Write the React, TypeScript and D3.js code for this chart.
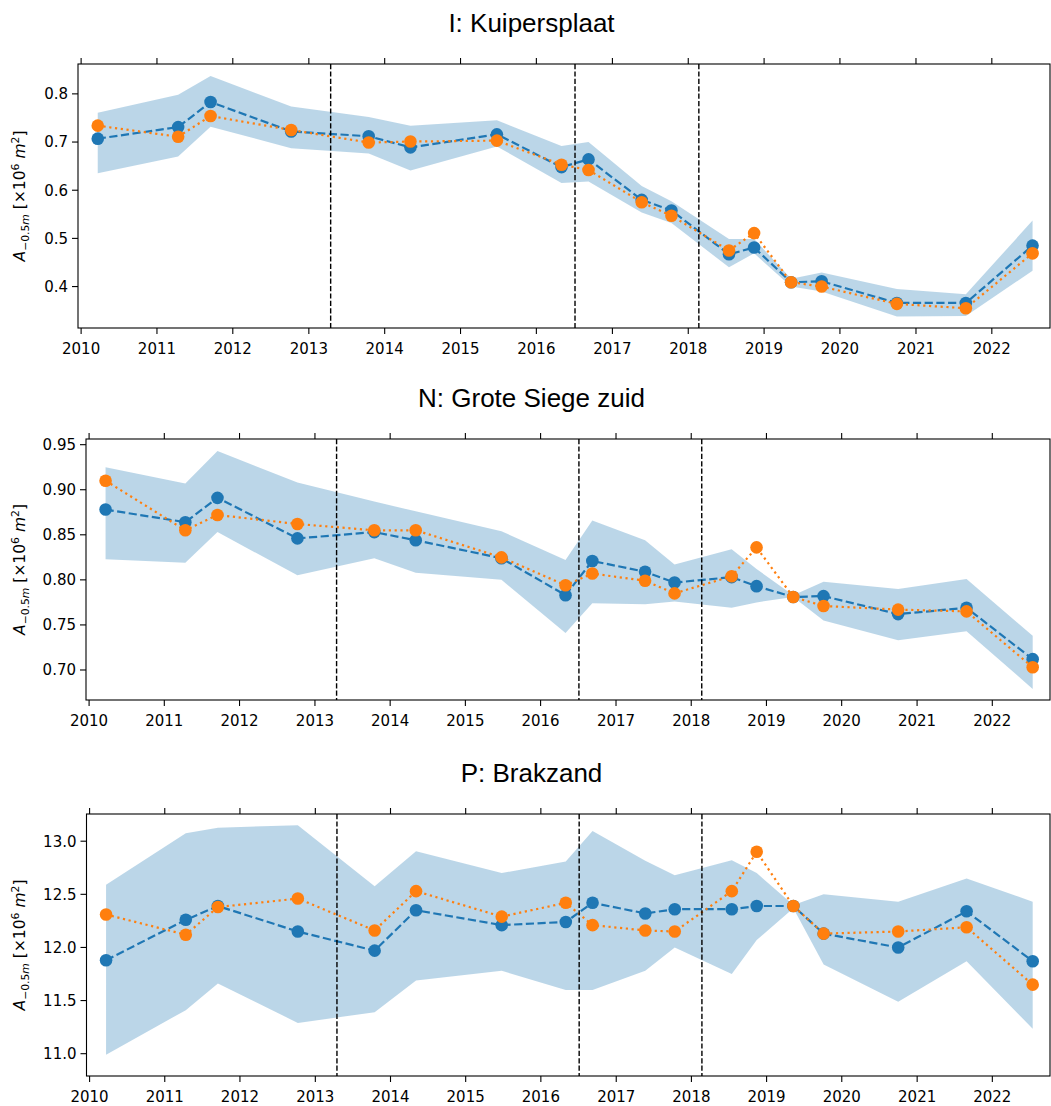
import * as d3 from "d3";

const WIDTH = 1051;
const HEIGHT = 1106;

// survey dates shared by the three areas
const surveyDates = [
  "2010-03-22", "2011-04-13", "2011-09-16", "2012-10-08", "2013-10-16",
  "2014-05-05", "2015-06-25", "2016-05-01", "2016-09-08", "2017-05-22",
  "2017-10-12", "2018-07-16", "2018-11-14", "2019-05-11", "2019-10-05",
  "2020-10-01", "2021-08-29", "2022-07-16",
];
const phaseDates = ["2013-04-16", "2016-07-05", "2018-02-21"];
const yearTicks = [2010, 2011, 2012, 2013, 2014, 2015, 2016, 2017, 2018, 2019, 2020, 2021, 2022];

// I: Kuipersplaat
const kuipMeasured = [0.707, 0.731, 0.783, 0.722, 0.712, 0.689, 0.716, 0.648, 0.664, 0.58, 0.558, 0.467, 0.481, 0.409, 0.411, 0.366, 0.366, 0.485];
const kuipModel = [0.734, 0.711, 0.754, 0.725, 0.699, 0.701, 0.703, 0.653, 0.642, 0.575, 0.547, 0.475, 0.511, 0.409, 0.4, 0.364, 0.355, 0.469];
const kuipUpper = [0.761, 0.798, 0.837, 0.774, 0.752, 0.734, 0.745, 0.692, 0.7, 0.609, 0.577, 0.499, 0.499, 0.416, 0.429, 0.395, 0.384, 0.537];
const kuipLower = [0.635, 0.67, 0.732, 0.687, 0.676, 0.641, 0.691, 0.615, 0.618, 0.554, 0.532, 0.44, 0.469, 0.4, 0.39, 0.338, 0.339, 0.433];
const kuipTicks = [0.4, 0.5, 0.6, 0.7, 0.8];

// N: Grote Siege zuid
const siegeMeasured = [0.878, 0.864, 0.891, 0.846, 0.853, 0.844, 0.824, 0.783, 0.821, 0.809, 0.797, 0.803, 0.793, 0.781, 0.782, 0.762, 0.769, 0.712];
const siegeModel = [0.91, 0.855, 0.872, 0.862, 0.855, 0.855, 0.825, 0.794, 0.807, 0.799, 0.785, 0.804, 0.836, 0.781, 0.771, 0.767, 0.765, 0.703];
const siegeUpper = [0.925, 0.907, 0.943, 0.908, 0.887, 0.876, 0.854, 0.822, 0.866, 0.844, 0.817, 0.834, 0.812, 0.783, 0.798, 0.79, 0.801, 0.738];
const siegeLower = [0.823, 0.819, 0.853, 0.805, 0.824, 0.808, 0.8, 0.741, 0.774, 0.773, 0.776, 0.769, 0.775, 0.781, 0.755, 0.733, 0.743, 0.679];
const siegeTicks = [0.7, 0.75, 0.8, 0.85, 0.9, 0.95];

// P: Brakzand
const brakMeasured = [11.88, 12.26, 12.39, 12.15, 11.97, 12.35, 12.21, 12.24, 12.42, 12.32, 12.36, 12.36, 12.39, 12.39, 12.13, 12.0, 12.34, 11.87];
const brakModel = [12.31, 12.12, 12.38, 12.46, 12.16, 12.53, 12.29, 12.42, 12.21, 12.16, 12.15, 12.53, 12.9, 12.39, 12.13, 12.15, 12.19, 11.65];
const brakUpper = [12.59, 13.075, 13.127, 13.15, 12.575, 12.906, 12.7, 12.81, 13.096, 12.816, 12.68, 12.82, 12.7, 12.4, 12.5, 12.43, 12.65, 12.43];
const brakLower = [10.99, 11.41, 11.66, 11.29, 11.39, 11.69, 11.78, 11.6, 11.6, 11.78, 12.0, 11.75, 12.07, 12.37, 11.84, 11.49, 11.87, 11.235];
const brakTicks = [11.0, 11.5, 12.0, 12.5, 13.0];

const BLUE = "#1f77b4";
const ORANGE = "#ff7f0e";
const TICK_FONT = "'DejaVu Sans', sans-serif";
const TITLE_FONT = "'Liberation Sans', Arial, sans-serif";

const parseDate = d3.timeParse("%Y-%m-%d");
const dates = surveyDates.map((d) => parseDate(d)!);
const phases = phaseDates.map((d) => parseDate(d)!);
const X_DOMAIN = [new Date(2009, 11, 17), new Date(2022, 9, 8)];

type PanelProps = {
  title: string;
  top: number;
  bottom: number;
  left: number;
  right: number;
  yDomain: [number, number];
  yTicks: number[];
  yFormat: string;
  measured: number[];
  model: number[];
  upper: number[];
  lower: number[];
};

const Panel = ({ title, top, bottom, left, right, yDomain, yTicks, yFormat, measured, model, upper, lower }: PanelProps) => {
  const xScale = d3.scaleTime().domain(X_DOMAIN).range([left, right]);
  const yScale = d3.scaleLinear().domain(yDomain).range([bottom, top]);
  const fmt = d3.format(yFormat);

  const bandPath = d3
    .area<number>()
    .x((_, i) => xScale(dates[i]))
    .y0((_, i) => yScale(lower[i]))
    .y1((d) => yScale(d))(upper);

  const lineBuilder = d3
    .line<number>()
    .x((_, i) => xScale(dates[i]))
    .y((d) => yScale(d));

  const midY = (top + bottom) / 2;
  const tickLen = 6;

  return (
    <g>
      <text x={531.5} y={top - 32} textAnchor="middle" fontFamily={TITLE_FONT} fontSize={26} fill="#000">
        {title}
      </text>

      <path d={bandPath!} fill={BLUE} fillOpacity={0.3} stroke="none" />

      <path d={lineBuilder(measured)!} fill="none" stroke={BLUE} strokeWidth={2.2} strokeDasharray="8.2,3.5" />
      {measured.map((v, i) => (
        <circle key={"b" + i} cx={xScale(dates[i])} cy={yScale(v)} r={6.3} fill={BLUE} />
      ))}

      <path d={lineBuilder(model)!} fill="none" stroke={ORANGE} strokeWidth={2.2} strokeDasharray="2.2,3.6" />
      {model.map((v, i) => (
        <circle key={"o" + i} cx={xScale(dates[i])} cy={yScale(v)} r={6.3} fill={ORANGE} />
      ))}

      {phases.map((d, i) => (
        <line
          key={"v" + i}
          x1={xScale(d)}
          x2={xScale(d)}
          y1={top}
          y2={bottom}
          stroke="#000"
          strokeWidth={1.4}
          strokeDasharray="5.2,2.2"
        />
      ))}

      {/* frame */}
      <rect x={left} y={top} width={right - left} height={bottom - top} fill="none" stroke="#000" strokeWidth={1.1} />

      {/* x ticks, top and bottom */}
      {yearTicks.map((yr) => {
        const px = xScale(new Date(yr, 0, 1));
        return (
          <g key={"x" + yr}>
            <line x1={px} x2={px} y1={bottom} y2={bottom + tickLen} stroke="#000" strokeWidth={1.1} />
            <line x1={px} x2={px} y1={top} y2={top - tickLen} stroke="#000" strokeWidth={1.1} />
            <text x={px} y={bottom + 26} textAnchor="middle" fontFamily={TICK_FONT} fontSize={15} fill="#000">
              {yr}
            </text>
          </g>
        );
      })}

      {/* y ticks */}
      {yTicks.map((t) => {
        const py = yScale(t);
        return (
          <g key={"y" + t}>
            <line x1={left - tickLen} x2={left} y1={py} y2={py} stroke="#000" strokeWidth={1.1} />
            <text x={left - 10} y={py} dy="0.36em" textAnchor="end" fontFamily={TICK_FONT} fontSize={15} fill="#000">
              {fmt(t)}
            </text>
          </g>
        );
      })}

      <text
        transform={`translate(25,${midY}) rotate(-90)`}
        textAnchor="middle"
        fontFamily={TICK_FONT}
        fontSize={15.5}
        fill="#000"
      >
        <tspan fontStyle="italic">A</tspan>
        <tspan fontSize={10.8} dy={3.5}>−0.5</tspan>
        <tspan fontSize={10.8} fontStyle="italic">m</tspan>
        <tspan dy={-3.5}> [×10</tspan>
        <tspan fontSize={10.8} dy={-6}>6</tspan>
        <tspan dy={6}> </tspan>
        <tspan fontStyle="italic">m</tspan>
        <tspan fontSize={10.8} dy={-6}>2</tspan>
        <tspan dy={6}>]</tspan>
      </text>
    </g>
  );
};

export default function App() {
  return (
    <div style={{ position: "absolute", left: 0, top: 0 }}>
      <svg width={WIDTH} height={HEIGHT} style={{ display: "block", background: "#fff" }}>
        <Panel
          title="I: Kuipersplaat"
          top={64}
          bottom={328}
          left={78}
          right={1050}
          yDomain={[0.314, 0.862]}
          yTicks={kuipTicks}
          yFormat=".1f"
          measured={kuipMeasured}
          model={kuipModel}
          upper={kuipUpper}
          lower={kuipLower}
        />
        <Panel
          title="N: Grote Siege zuid"
          top={439}
          bottom={700}
          left={86}
          right={1050}
          yDomain={[0.6667, 0.9563]}
          yTicks={siegeTicks}
          yFormat=".2f"
          measured={siegeMeasured}
          model={siegeModel}
          upper={siegeUpper}
          lower={siegeLower}
        />
        <Panel
          title="P: Brakzand"
          top={814}
          bottom={1076}
          left={86.5}
          right={1050}
          yDomain={[10.79, 13.256]}
          yTicks={brakTicks}
          yFormat=".1f"
          measured={brakMeasured}
          model={brakModel}
          upper={brakUpper}
          lower={brakLower}
        />
      </svg>
    </div>
  );
}
